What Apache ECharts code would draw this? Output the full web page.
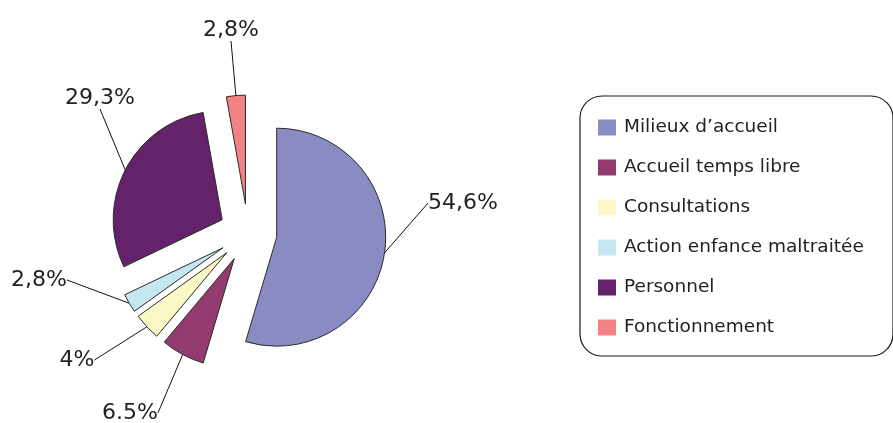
<!DOCTYPE html>
<html><head><meta charset="utf-8">
<script src="https://cdn.jsdelivr.net/npm/echarts@6/dist/echarts.min.js"></script>
<style>html,body{margin:0;padding:0;background:#fff}#c{width:893px;height:423px}</style>
</head><body><div id="c"></div>
<script>
const categories = ['Milieux d\u2019accueil', 'Accueil temps libre', 'Consultations', 'Action enfance maltraitée', 'Personnel', 'Fonctionnement'];
const values = [54.6, 6.5, 4, 2.8, 29.3, 2.8];
const valueLabels = ['54,6%', '6.5%', '4%', '2,8%', '29,3%', '2,8%'];
const colors = ['#8a8bc3', '#933a6f', '#fbf8c8', '#c4e7f1', '#63226a', '#f28283'];
// label text centres (layout only)
const labelPos = [[463, 203], [130, 413], [77, 360], [39, 280], [100, 98], [231, 30]];

const FONT = '"DejaVu Sans", sans-serif';
const CENTER = [248, 233], RADIUS = 109, EXPLODE = 29;
const total = values.reduce((a, b) => a + b, 0);

let acc = 0;
const series = categories.map((name, i) => {
  // each slice is pulled out along its own bisector (exploded pie)
  const mid = (acc + values[i] / 2) / total * 2 * Math.PI;
  acc += values[i];
  const cx = CENTER[0] + EXPLODE * Math.sin(mid);
  const cy = CENTER[1] - EXPLODE * Math.cos(mid);
  return {
    type: 'pie', name: name,
    center: [cx, cy], radius: RADIUS,
    startAngle: 90, clockwise: true,
    avoidLabelOverlap: false,
    emphasis: { disabled: true },
    silent: true,
    label: {
      show: true, position: 'outside',
      fontFamily: FONT, fontSize: 22, color: '#222',
      padding: [7, 10, 7, 10],
      formatter: p => valueLabels[p.dataIndex]
    },
    labelLine: { show: true, length: 10, length2: 0, lineStyle: { color: '#111', width: 1 } },
    labelLayout: p => p.dataIndex === i
      ? { x: labelPos[i][0], y: labelPos[i][1], align: 'center', verticalAlign: 'middle' }
      : {},
    data: categories.map((n, j) => j === i
      ? { name: n, value: values[j], itemStyle: { color: colors[j], borderColor: '#2a2a2a', borderWidth: 1 } }
      : { name: n, value: values[j], itemStyle: { color: 'rgba(0,0,0,0)', borderWidth: 0 },
          label: { show: false }, labelLine: { show: false } })
  };
});

const chart = echarts.init(document.getElementById('c'));
chart.setOption({
  animation: false,
  legend: {
    orient: 'vertical', left: 580, top: 96,
    icon: 'rect', itemWidth: 18, itemHeight: 16, itemGap: 21,
    selectedMode: false,
    itemStyle: { borderWidth: 0 },
    data: categories.map((n, i) => ({ name: n, itemStyle: { color: colors[i], borderWidth: 0 } })),
    textStyle: { fontFamily: FONT, fontSize: 18.5, color: '#222', width: 250, lineHeight: 16, padding: [0, 0, 0, 3] },
    borderColor: '#1a1a1a', borderWidth: 1.2, borderRadius: 22,
    padding: [22, 19, 19, 18]
  },
  series: series
});
</script></body></html>
